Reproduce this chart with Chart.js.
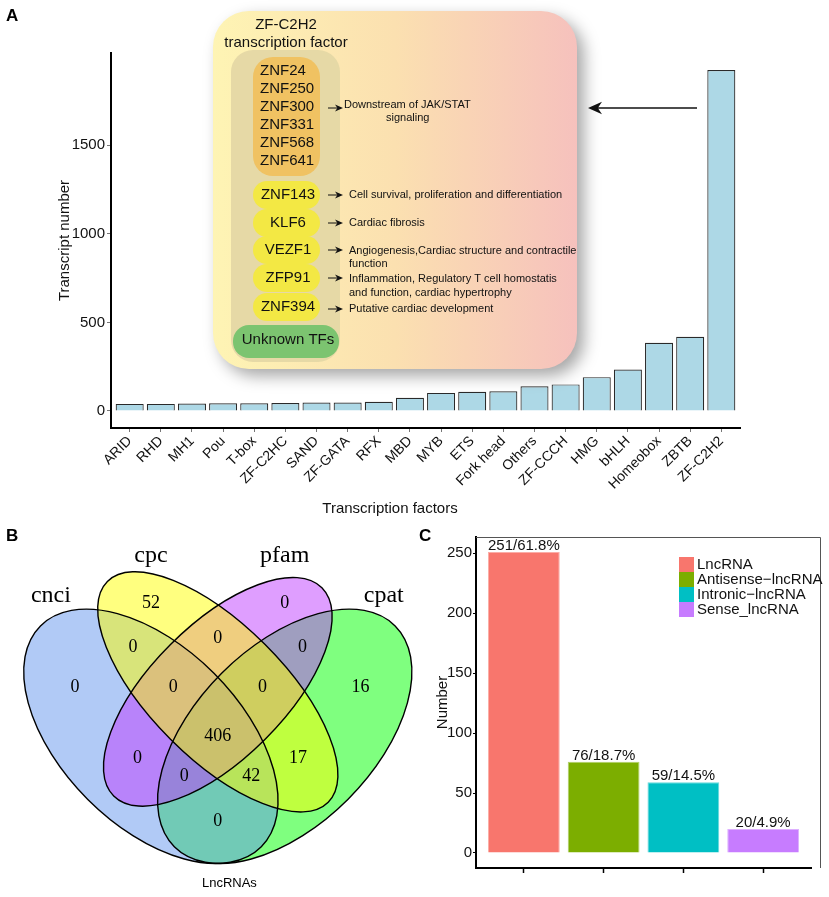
<!DOCTYPE html>
<html>
<head>
<meta charset="utf-8">
<script src="https://cdn.jsdelivr.net/npm/chart.js@4.4.1/dist/chart.umd.min.js"></script>
<style>
  body { margin: 0; background: #fff; }
  #wrap { position: relative; width: 829px; height: 897px; overflow: hidden; }
  canvas { position: absolute; }
  .tag { position: absolute; font: bold 17px "Liberation Sans", Arial, sans-serif; color: #000; }
</style>
</head>
<body>
<div id="wrap">
  <canvas id="chart-a" width="829" height="520" style="left:0;top:0"></canvas>
  <canvas id="chart-b" width="420" height="377" style="left:0;top:520px"></canvas>
  <canvas id="chart-c" width="409" height="377" style="left:420px;top:520px"></canvas>
  <div class="tag" style="left:6px;top:6px">A</div>
  <div class="tag" style="left:6px;top:526px">B</div>
  <div class="tag" style="left:419px;top:526px">C</div>
</div>
<script>
// Panel A: transcription factor families
const tfNames = ['ARID', 'RHD', 'MH1', 'Pou', 'T-box', 'ZF-C2HC', 'SAND', 'ZF-GATA', 'RFX', 'MBD',
  'MYB', 'ETS', 'Fork head', 'Others', 'ZF-CCCH', 'HMG', 'bHLH', 'Homeobox', 'ZBTB', 'ZF-C2H2'];
const tfCounts = [40, 40, 42, 43, 43, 45, 48, 48, 52, 74, 102, 108, 111, 140, 150, 191, 234, 385, 419, 1924];
const tfTicks = [0, 500, 1000, 1500];

// Panel B: venn of coding potential tools
const vennSets = ['cnci', 'cpc', 'pfam', 'cpat'];
const vennRegions = ['cnci', 'cpc', 'pfam', 'cpat', 'cnci+cpc', 'cpc+pfam', 'pfam+cpat',
  'cnci+cpc+pfam', 'cpc+pfam+cpat', 'all', 'cnci+pfam', 'cpc+cpat', 'cnci+pfam+cpat', 'cnci+cpc+cpat', 'cnci+cpat'];
const vennCounts = [0, 52, 0, 16, 0, 0, 0, 0, 0, 406, 0, 17, 0, 42, 0];

// Panel C: lncRNA classes
const lncTypes = ['LncRNA', 'Antisense\u2212lncRNA', 'Intronic\u2212lncRNA', 'Sense_lncRNA'];
const lncCounts = [251, 76, 59, 20];
const lncPercents = [61.8, 18.7, 14.5, 4.9];
const lncTicks = [0, 50, 100, 150, 200, 250];

Chart.defaults.font.family = '"Liberation Sans", Arial, sans-serif';
Chart.defaults.color = '#111';

const SANS = '"Liberation Sans", Arial, sans-serif';

function arrow(ctx, x1, x2, y, head) {
    ctx.beginPath();
    ctx.moveTo(x1, y);
    ctx.lineTo(x2 + (x2 < x1 ? head * 0.6 : -head * 0.6), y);
    ctx.stroke();
    const d = x2 < x1 ? 1 : -1;
    ctx.beginPath();
    ctx.moveTo(x2, y);
    ctx.lineTo(x2 + d * head, y - head * 0.45);
    ctx.lineTo(x2 + d * head * 0.7, y);
    ctx.lineTo(x2 + d * head, y + head * 0.45);
    ctx.closePath();
    ctx.fill();
}

// the ZF-C2H2 annotation box over panel A
const zfOverlay = {
    id: 'zfOverlay',
    afterDraw(chart) {
        const ctx = chart.ctx;
        ctx.save();

        // x title sits left of the axis centre in the original
        ctx.fillStyle = '#111';
        ctx.font = '15px ' + SANS;
        ctx.textAlign = 'center';
        ctx.textBaseline = 'middle';
        ctx.fillText('Transcription factors', 390, 509);

        ctx.save();
        ctx.shadowColor = 'rgba(0,0,0,0.35)';
        ctx.shadowBlur = 16;
        ctx.shadowOffsetX = 7;
        ctx.shadowOffsetY = 7;
        const g = ctx.createLinearGradient(213, 0, 577, 0);
        g.addColorStop(0, '#fef4b4');
        g.addColorStop(0.5, '#fbe0b0');
        g.addColorStop(1, '#f6c1bd');
        ctx.fillStyle = g;
        ctx.beginPath();
        ctx.roundRect(213, 11, 364, 358, 36);
        ctx.fill();
        ctx.restore();

        ctx.fillStyle = '#111';
        ctx.font = '15px ' + SANS;
        ctx.fillText('ZF-C2H2', 286, 25);
        ctx.fillText('transcription factor', 286, 43);

        ctx.fillStyle = '#e6d9a6';
        ctx.beginPath();
        ctx.roundRect(231, 50, 109, 312, 22);
        ctx.fill();

        ctx.fillStyle = '#f0c262';
        ctx.beginPath();
        ctx.roundRect(253, 57, 67, 119, 20);
        ctx.fill();
        ctx.fillStyle = '#111';
        ctx.textAlign = 'left';
        ['ZNF24', 'ZNF250', 'ZNF300', 'ZNF331', 'ZNF568', 'ZNF641'].forEach((t, i) => {
            ctx.fillText(t, 260, 71 + i * 18);
        });

        const pills = [['ZNF143', 195], ['KLF6', 223], ['VEZF1', 250], ['ZFP91', 278], ['ZNF394', 307]];
        pills.forEach(([t, y]) => {
            ctx.fillStyle = '#f3e844';
            ctx.beginPath();
            ctx.roundRect(253, y - 14, 67, 28, 14);
            ctx.fill();
            ctx.fillStyle = '#111';
            ctx.textAlign = 'center';
            ctx.fillText(t, 288, y);
        });

        ctx.fillStyle = '#7cc470';
        ctx.beginPath();
        ctx.roundRect(233, 325, 106, 33, 16);
        ctx.fill();
        ctx.fillStyle = '#111';
        ctx.fillText('Unknown TFs', 288, 340);

        ctx.strokeStyle = '#111';
        ctx.fillStyle = '#111';
        ctx.lineWidth = 1;
        [108, 195, 223, 250, 278, 309].forEach(y => arrow(ctx, 328, 343, y, 8));

        ctx.font = '11px ' + SANS;
        ctx.textAlign = 'left';
        ctx.fillText('Downstream of JAK/STAT', 344, 105);
        ctx.fillText('signaling', 386, 118);
        ctx.fillText('Cell survival, proliferation and differentiation', 349, 195);
        ctx.fillText('Cardiac fibrosis', 349, 223);
        ctx.fillText('Angiogenesis,Cardiac structure and contractile', 349, 251);
        ctx.fillText('function', 349, 264);
        ctx.fillText('Inflammation, Regulatory T cell homostatis', 349, 279);
        ctx.fillText('and function, cardiac hypertrophy', 349, 293);
        ctx.fillText('Putative cardiac development', 349, 309);

        ctx.lineWidth = 1.6;
        arrow(ctx, 697, 588, 108, 14);
        ctx.restore();
    }
};

new Chart(document.getElementById('chart-a'), {
    type: 'bar',
    data: {
        datasets: [{
            data: tfCounts.map((v, i) => ({ x: i, y: v })),
            backgroundColor: '#add8e6',
            borderColor: '#2a2a2a',
            borderWidth: 1.2,
            barPercentage: 0.9,
            categoryPercentage: 1
        }]
    },
    options: {
        responsive: false,
        animation: false,
        layout: { padding: { top: 53, right: 89, left: 0, bottom: 0 } },
        plugins: { legend: { display: false }, tooltip: { enabled: false } },
        scales: {
            x: {
                type: 'linear',
                offset: false,
                min: -0.6,
                max: tfNames.length - 0.4,
                afterBuildTicks: s => { s.ticks = tfNames.map((n, i) => ({ value: i })); },
                afterFit: s => { s.height = 92; },
                ticks: {
                    callback: v => tfNames[v],
                    minRotation: 45,
                    maxRotation: 45,
                    autoSkip: false,
                    font: { size: 14 },
                    color: '#111',
                    padding: 1
                },
                grid: { drawOnChartArea: false, offset: false, tickLength: 4, color: '#777' },
                border: { color: '#000', width: 2 }
            },
            y: {
                min: -96,
                max: 2020,
                afterBuildTicks: s => { s.ticks = tfTicks.map(v => ({ value: v })); },
                afterFit: s => { s.width = 111; },
                ticks: { callback: v => String(v), font: { size: 15 }, color: '#111', padding: 2 },
                grid: { drawOnChartArea: false, tickLength: 4, color: '#777' },
                border: { color: '#000', width: 2 },
                title: {
                    display: true,
                    text: 'Transcript number',
                    font: { size: 15 },
                    color: '#111',
                    padding: { top: 56 }
                }
            }
        }
    },
    plugins: [zfOverlay]
});

// Venn layout in unit square (VennDiagram quad layout)
const vennEllipses = [
    { x: 0.35, y: 0.47, a: 0.35, b: 0.20, rot: Math.PI / 4, fill: 'rgba(100,149,237,0.5)' },
    { x: 0.50, y: 0.57, a: 0.35, b: 0.15, rot: Math.PI / 4, fill: 'rgba(255,255,0,0.5)' },
    { x: 0.50, y: 0.57, a: 0.33, b: 0.15, rot: -Math.PI / 4, fill: 'rgba(191,62,255,0.5)' },
    { x: 0.65, y: 0.47, a: 0.35, b: 0.20, rot: -Math.PI / 4, fill: 'rgba(0,255,0,0.5)' }
];
const vennDrawOrder = [3, 0, 2, 1];
const vennLabelPos = [[0.18, 0.58], [0.35, 0.77], [0.65, 0.77], [0.82, 0.58], [0.31, 0.67], [0.5, 0.69],
    [0.69, 0.67], [0.40, 0.58], [0.60, 0.58], [0.5, 0.47], [0.32, 0.42], [0.68, 0.42], [0.425, 0.38],
    [0.575, 0.38], [0.5, 0.28]];
const vennSetPos = [[0.126, 0.787], [0.35, 0.875], [0.65, 0.875], [0.872, 0.787]];

const vennPlugin = {
    id: 'venn',
    afterDatasetsDraw(chart) {
        const ctx = chart.ctx;
        const xs = chart.scales.x, ys = chart.scales.y;
        const unit = Math.abs(xs.getPixelForValue(1) - xs.getPixelForValue(0));
        ctx.save();
        const path = e => {
            ctx.beginPath();
            ctx.ellipse(xs.getPixelForValue(e.x), ys.getPixelForValue(e.y), e.a * unit, e.b * unit, e.rot, 0, Math.PI * 2);
        };
        vennDrawOrder.forEach(i => {
            path(vennEllipses[i]);
            ctx.fillStyle = vennEllipses[i].fill;
            ctx.fill();
        });
        ctx.strokeStyle = '#000';
        ctx.lineWidth = 1.4;
        vennEllipses.forEach(e => { path(e); ctx.stroke(); });

        ctx.fillStyle = '#000';
        ctx.textAlign = 'center';
        ctx.textBaseline = 'middle';
        ctx.font = '18px "Liberation Serif", "Times New Roman", serif';
        vennCounts.forEach((c, i) => {
            ctx.fillText(String(c), xs.getPixelForValue(vennLabelPos[i][0]), ys.getPixelForValue(vennLabelPos[i][1]));
        });
        ctx.font = '24px "Liberation Serif", "Times New Roman", serif';
        vennSets.forEach((s, i) => {
            ctx.fillText(s, xs.getPixelForValue(vennSetPos[i][0]), ys.getPixelForValue(vennSetPos[i][1]));
        });
        ctx.font = '13px ' + SANS;
        ctx.fillText('LncRNAs', xs.getPixelForValue(0.526), ys.getPixelForValue(0.1396));
        ctx.restore();
    }
};

new Chart(document.getElementById('chart-b'), {
    type: 'scatter',
    data: { datasets: [{ data: vennRegions.map(() => null) }] },
    options: {
        responsive: false,
        animation: false,
        layout: { padding: 0 },
        plugins: { legend: { display: false }, tooltip: { enabled: false } },
        scales: {
            x: { display: false, min: 0.023, max: 0.942 },
            y: { display: false, min: 0.120, max: 0.945 }
        }
    },
    plugins: [vennPlugin]
});

// Panel C
const lncColors = ['#f8766d', '#7cae00', '#00bfc4', '#c77cff'];

const lncPlugin = {
    id: 'lncExtras',
    beforeDatasetsDraw(chart) {
        const ctx = chart.ctx, a = chart.chartArea;
        ctx.save();
        ctx.strokeStyle = '#555';
        ctx.lineWidth = 1;
        ctx.beginPath();
        ctx.moveTo(a.left, a.top + 0.5);
        ctx.lineTo(400.5, a.top + 0.5);
        ctx.lineTo(400.5, a.bottom);
        ctx.stroke();
        ctx.restore();
    },
    afterDatasetsDraw(chart) {
        const ctx = chart.ctx;
        const meta = chart.getDatasetMeta(0);
        ctx.save();
        ctx.fillStyle = '#111';
        ctx.font = '15px ' + SANS;
        ctx.textAlign = 'center';
        ctx.textBaseline = 'alphabetic';
        meta.data.forEach((bar, i) => {
            ctx.fillText(lncCounts[i] + '/' + lncPercents[i] + '%', bar.x, bar.y - 2);
        });
        // legend
        ctx.textAlign = 'left';
        ctx.textBaseline = 'middle';
        lncTypes.forEach((t, i) => {
            ctx.fillStyle = lncColors[i];
            ctx.fillRect(259, 37 + i * 15, 15, 15);
            ctx.fillStyle = '#111';
            ctx.fillText(t, 277, 45 + i * 15);
        });
        ctx.restore();
    }
};

new Chart(document.getElementById('chart-c'), {
    type: 'bar',
    data: {
        datasets: [{
            data: lncCounts.map((v, i) => ({ x: i, y: v })),
            backgroundColor: lncColors,
            borderColor: lncColors.map(c => c + '99'),
            borderWidth: 1,
            barPercentage: 0.9,
            categoryPercentage: 1
        }]
    },
    options: {
        responsive: false,
        animation: false,
        layout: { padding: { top: 17, right: 18, left: 0, bottom: 0 } },
        plugins: { legend: { display: false }, tooltip: { enabled: false } },
        scales: {
            x: {
                type: 'linear',
                offset: false,
                min: -0.6,
                max: lncTypes.length - 0.4,
                afterBuildTicks: s => { s.ticks = lncTypes.map((t, i) => ({ value: i })); },
                afterFit: s => { s.height = 29; },
                ticks: { callback: () => '', maxRotation: 0 },
                grid: { drawOnChartArea: false, offset: false, tickLength: 5, color: '#000', tickWidth: 1.5 },
                border: { color: '#000', width: 2 }
            },
            y: {
                min: -12.55,
                max: 263.55,
                afterBuildTicks: s => { s.ticks = lncTicks.map(v => ({ value: v })); },
                afterFit: s => { s.width = 56; },
                ticks: { callback: v => String(v), font: { size: 15 }, color: '#111', padding: 1 },
                grid: { drawOnChartArea: false, tickLength: 3, color: '#000' },
                border: { color: '#000', width: 2 },
                title: { display: true, text: 'Number', font: { size: 15 }, color: '#111', padding: { top: 14 } }
            }
        }
    },
    plugins: [lncPlugin]
});
</script>
</body>
</html>
